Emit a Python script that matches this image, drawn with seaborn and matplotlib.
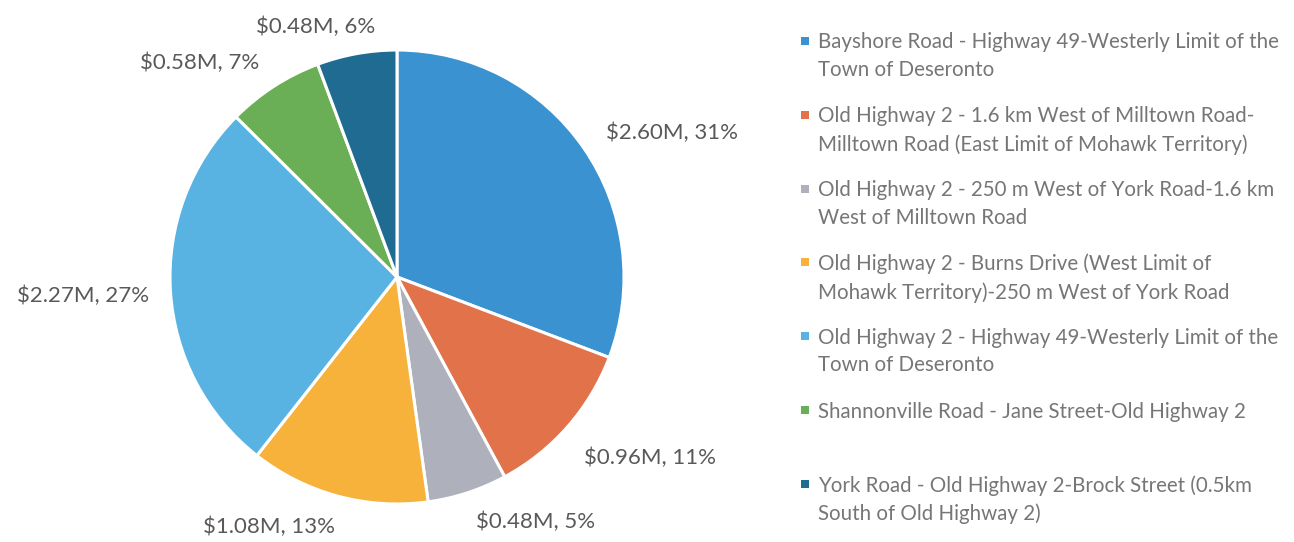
import matplotlib
matplotlib.use("Agg")
import numpy as np
import matplotlib.pyplot as plt
from matplotlib.patches import Rectangle
import seaborn as sns

# Road segments (legend text, wrapped as displayed) and their costs in $M
segments = [
    "Bayshore Road - Highway 49-Westerly Limit of the\nTown of Deseronto",
    "Old Highway 2 - 1.6 km West of Milltown Road-\nMilltown Road (East Limit of Mohawk Territory)",
    "Old Highway 2 - 250 m West of York Road-1.6 km\nWest of Milltown Road",
    "Old Highway 2 - Burns Drive (West Limit of\nMohawk Territory)-250 m West of York Road",
    "Old Highway 2 - Highway 49-Westerly Limit of the\nTown of Deseronto",
    "Shannonville Road - Jane Street-Old Highway 2",
    "York Road - Old Highway 2-Brock Street (0.5km\nSouth of Old Highway 2)",
]
costs = [2.60, 0.96, 0.48, 1.08, 2.27, 0.58, 0.48]
shares = [31, 11, 5, 13, 27, 7, 6]
colors = ["#3a93d0", "#e2724a", "#aeb0bb", "#f7b23b", "#58b3e3", "#6aae55", "#1f6b92"]

sns.set_theme(style="white")
plt.rcParams["font.family"] = ["Lato", "DejaVu Sans"]

W, H = 1294, 542
fig = plt.figure(figsize=(W / 100, H / 100), dpi=100)
ax = fig.add_axes([0, 0, 1, 1])

cx, cy, R = 397, H - 277, 227
wedges, _ = ax.pie(
    costs,
    colors=colors,
    startangle=90,
    counterclock=False,
    center=(cx, cy),
    radius=R,
    wedgeprops=dict(edgecolor="white", linewidth=2.2),
)
ax.set_xlim(0, W)
ax.set_ylim(0, H)
ax.axis("off")

# Data labels just outside each wedge, anchored toward the pie,
# with small nudges (in pixels) to keep them clear of neighbours
nudges = [(0, 0), (-4, -13), (0, -3), (0, -4), (6, -3), (0, 0), (2, 0)]
fig.canvas.draw()
renderer = fig.canvas.get_renderer()
for w, c, s, (nx, ny) in zip(wedges, costs, shares, nudges):
    theta = np.deg2rad((w.theta1 + w.theta2) / 2)
    px = cx + 1.12 * R * np.cos(theta) + nx
    py = cy + 1.12 * R * np.sin(theta) + ny
    t = ax.text(px, py, f"${c:.2f}M, {s}%", fontsize=16, color="#595959",
                ha="left", va="center")
    width = t.get_window_extent(renderer).width
    frac = float(np.clip(0.5 - 1.8 * np.cos(theta), 0, 1))
    t.set_x(px - frac * width)

# Legend: square key beside the first line of each wrapped entry
top, step = H - 41, 73.8
for i, (name, col) in enumerate(zip(segments, colors)):
    y = top - i * step
    ax.add_patch(Rectangle((801, y - 4), 8, 8, facecolor=col, edgecolor="none"))
    ax.text(818, y + 8.5, name, fontsize=14.8, color="#767676",
            va="top", ha="left", linespacing=1.47)

fig.savefig("out.png", dpi=100, facecolor="white")
